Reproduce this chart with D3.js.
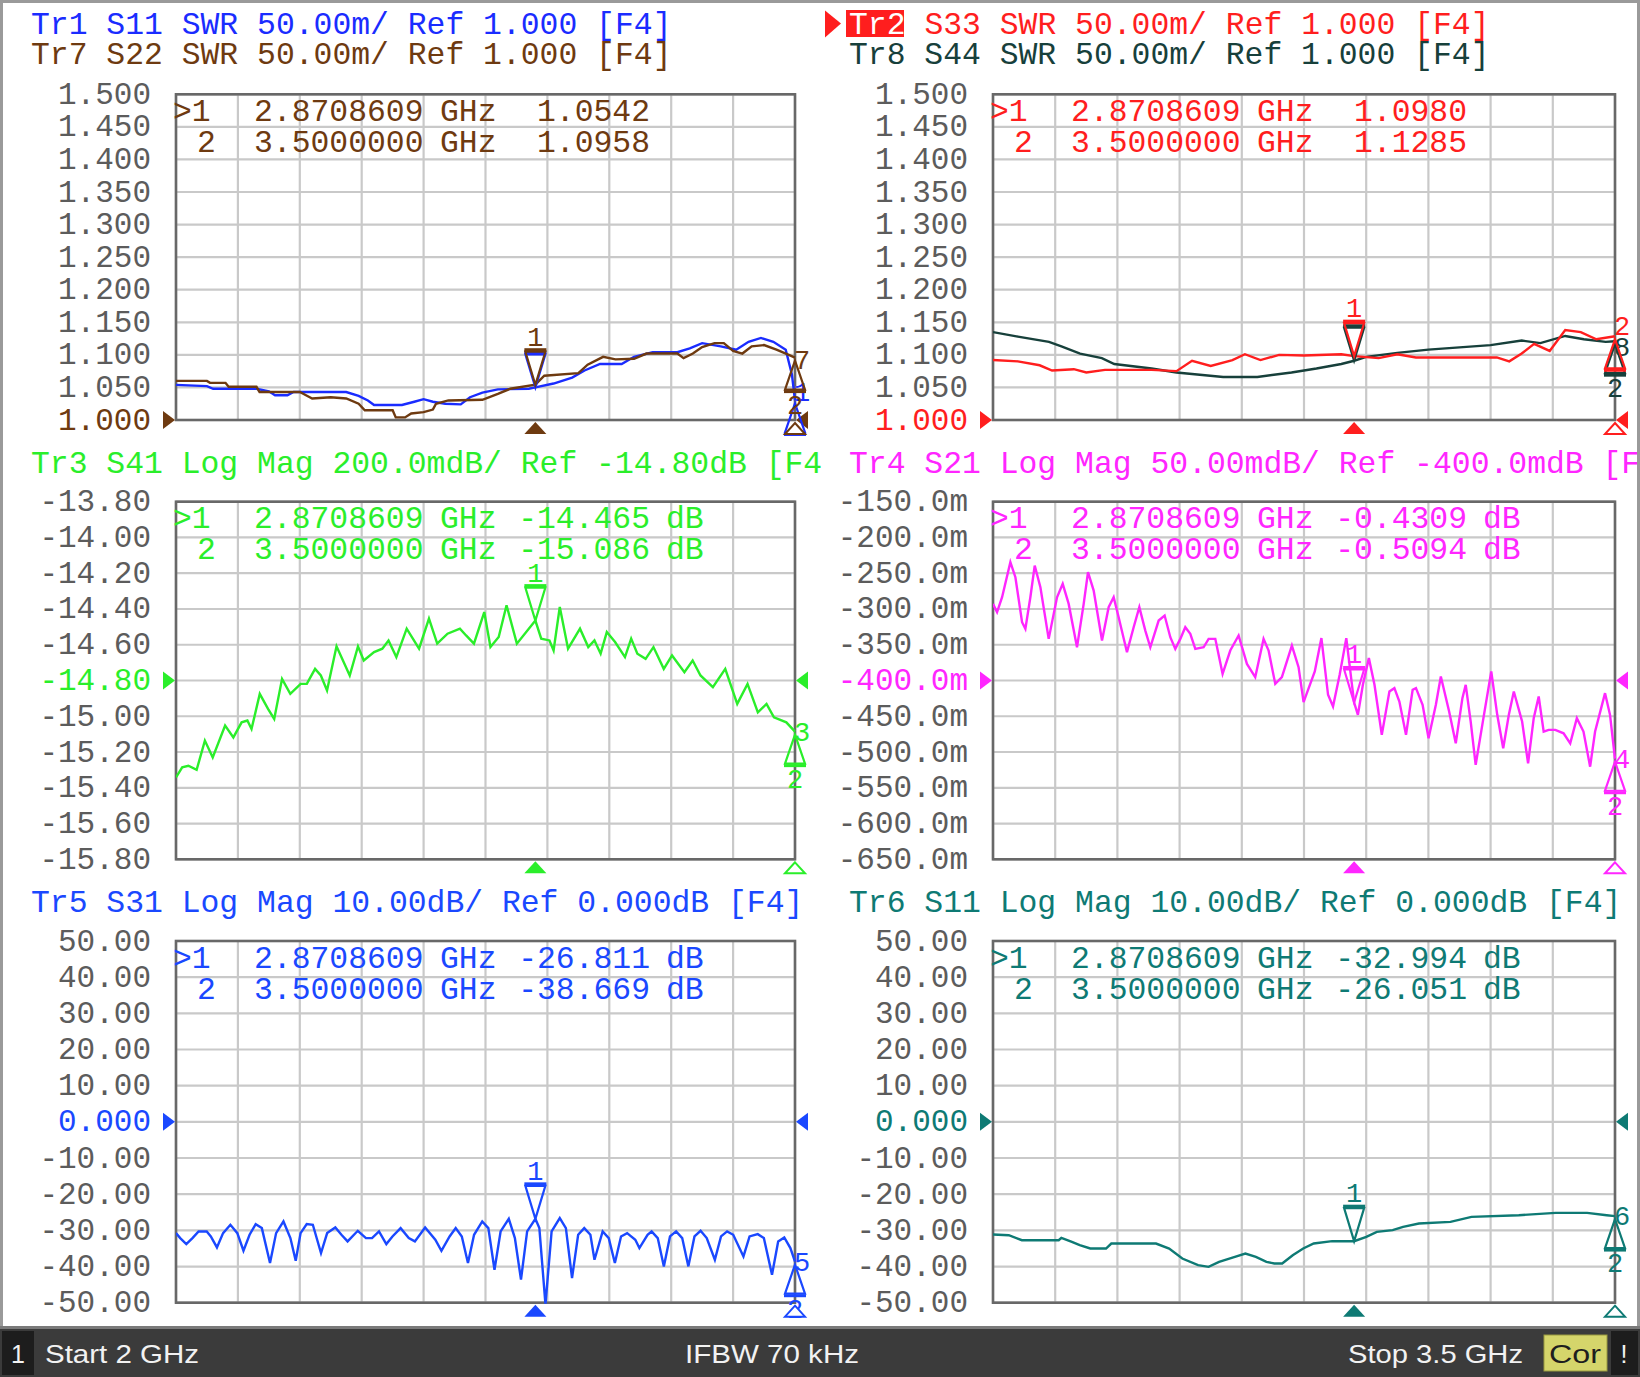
<!DOCTYPE html>
<html><head><meta charset="utf-8">
<script src="https://cdn.jsdelivr.net/npm/d3@7"></script>
<style>html,body{margin:0;padding:0;background:#fff;} svg{display:block;}</style>
</head><body>
<svg id="c" width="1640" height="1377"></svg>
<script>
// ---------------- DATA ----------------
const sweepStart = 2.0, sweepStop = 3.5;          // GHz
const marker1F = 2.8708609, marker2F = 3.5;

const swrTicks  = ["1.500","1.450","1.400","1.350","1.300","1.250","1.200","1.150","1.100","1.050","1.000"];
const s41Ticks  = ["-13.80","-14.00","-14.20","-14.40","-14.60","-14.80","-15.00","-15.20","-15.40","-15.60","-15.80"];
const s21Ticks  = ["-150.0m","-200.0m","-250.0m","-300.0m","-350.0m","-400.0m","-450.0m","-500.0m","-550.0m","-600.0m","-650.0m"];
const dbTicks   = ["50.00","40.00","30.00","20.00","10.00","0.000","-10.00","-20.00","-30.00","-40.00","-50.00"];

// Tr1 S11 SWR (blue)
const tr1F = [2.000,2.075,2.090,2.195,2.225,2.240,2.270,2.285,2.4125,2.4425,2.465,2.480,2.5475,2.5775,2.600,2.6225,2.6525,2.690,2.7125,2.7425,2.780,2.855,2.8709,2.915,2.960,2.990,3.0275,3.080,3.110,3.155,3.215,3.245,3.275,3.320,3.3575,3.3875,3.4175,3.4475,3.4775,3.4925,3.500];
const tr1V = [1.054,1.052,1.048,1.048,1.044,1.038,1.038,1.043,1.043,1.037,1.030,1.023,1.023,1.028,1.032,1.028,1.025,1.024,1.035,1.042,1.047,1.048,1.050,1.056,1.065,1.076,1.086,1.086,1.097,1.104,1.104,1.110,1.118,1.113,1.108,1.120,1.126,1.120,1.108,1.070,1.030];
// Tr7 S22 SWR (brown)
const tr7F = [2.000,2.075,2.0825,2.120,2.1275,2.195,2.2025,2.300,2.315,2.330,2.375,2.4125,2.4425,2.4575,2.525,2.5325,2.555,2.570,2.600,2.6225,2.630,2.660,2.7425,2.780,2.810,2.8709,2.8925,2.975,2.9975,3.035,3.065,3.110,3.140,3.215,3.230,3.2525,3.275,3.305,3.3275,3.350,3.3725,3.395,3.425,3.455,3.485,3.500];
const tr7V = [1.060,1.060,1.057,1.057,1.051,1.051,1.043,1.043,1.038,1.033,1.035,1.033,1.025,1.015,1.015,1.004,1.004,1.010,1.012,1.016,1.025,1.030,1.031,1.040,1.048,1.0542,1.068,1.072,1.085,1.097,1.093,1.094,1.102,1.102,1.095,1.102,1.112,1.118,1.118,1.106,1.102,1.113,1.115,1.108,1.100,1.0958];
// Tr2 S33 SWR (red)
const tr2F = [2.000,2.060,2.1125,2.1425,2.195,2.225,2.270,2.3825,2.4425,2.480,2.525,2.5775,2.6075,2.645,2.690,2.750,2.840,2.8709,2.930,2.975,3.020,3.215,3.245,3.275,3.305,3.3425,3.380,3.4175,3.455,3.500];
const tr2V = [1.092,1.090,1.084,1.076,1.078,1.073,1.077,1.077,1.075,1.091,1.083,1.092,1.101,1.092,1.100,1.099,1.101,1.098,1.095,1.101,1.096,1.096,1.090,1.102,1.117,1.106,1.138,1.135,1.124,1.1285];
// Tr8 S44 SWR (dark)
const tr8F = [2.000,2.060,2.135,2.165,2.210,2.2625,2.2925,2.3825,2.4425,2.555,2.6375,2.720,2.780,2.840,2.8709,2.900,2.975,3.050,3.200,3.275,3.320,3.380,3.425,3.4775,3.500];
const tr8V = [1.135,1.128,1.120,1.113,1.102,1.095,1.086,1.079,1.073,1.066,1.066,1.073,1.079,1.086,1.091,1.097,1.103,1.108,1.115,1.122,1.118,1.129,1.124,1.120,1.121];
// Tr3 S41 Log Mag dB (green)
const tr3F = [2.000,2.015,2.030,2.050,2.070,2.089,2.119,2.139,2.159,2.173,2.183,2.203,2.223,2.238,2.257,2.277,2.302,2.317,2.337,2.351,2.366,2.389,2.421,2.441,2.455,2.480,2.500,2.515,2.534,2.559,2.589,2.613,2.633,2.658,2.688,2.703,2.722,2.747,2.762,2.782,2.801,2.826,2.8709,2.885,2.905,2.915,2.930,2.950,2.979,2.999,3.014,3.029,3.044,3.064,3.088,3.103,3.118,3.138,3.157,3.182,3.202,3.232,3.252,3.271,3.301,3.331,3.360,3.385,3.410,3.431,3.449,3.479,3.500];
const tr3V = [-15.342,-15.286,-15.277,-15.300,-15.136,-15.230,-15.052,-15.118,-15.034,-15.024,-15.071,-14.875,-14.959,-15.015,-14.791,-14.875,-14.819,-14.819,-14.735,-14.772,-14.856,-14.609,-14.772,-14.609,-14.688,-14.641,-14.622,-14.576,-14.669,-14.510,-14.622,-14.454,-14.594,-14.538,-14.510,-14.548,-14.594,-14.417,-14.613,-14.557,-14.379,-14.594,-14.465,-14.566,-14.576,-14.632,-14.389,-14.622,-14.510,-14.613,-14.576,-14.650,-14.529,-14.585,-14.669,-14.566,-14.650,-14.679,-14.613,-14.735,-14.660,-14.753,-14.688,-14.772,-14.837,-14.735,-14.931,-14.819,-14.978,-14.931,-15.006,-15.034,-15.086];
// Tr4 S21 Log Mag dB (magenta)
const tr4F = [2.000,2.0098,2.0219,2.0419,2.054,2.0701,2.0781,2.0901,2.1006,2.1143,2.1343,2.1544,2.1681,2.1825,2.2026,2.2187,2.2291,2.2428,2.2629,2.2789,2.291,2.303,2.3231,2.3392,2.3529,2.3673,2.3794,2.3995,2.4139,2.4276,2.4396,2.4517,2.4637,2.4758,2.4879,2.5079,2.520,2.5361,2.5537,2.5722,2.5923,2.6124,2.6324,2.6525,2.6646,2.6807,2.6967,2.7208,2.7369,2.749,2.776,2.792,2.808,2.820,2.836,2.852,2.8709,2.880,2.892,2.9064,2.920,2.9376,2.956,2.968,2.980,2.996,3.012,3.020,3.036,3.0504,3.068,3.080,3.100,3.116,3.132,3.140,3.152,3.164,3.184,3.2016,3.216,3.2304,3.244,3.256,3.276,3.2904,3.304,3.316,3.328,3.340,3.356,3.376,3.392,3.408,3.424,3.440,3.452,3.476,3.488,3.500];
const tr4V = [-0.2929,-0.3045,-0.2836,-0.2346,-0.2556,-0.3185,-0.3278,-0.2836,-0.2393,-0.2696,-0.3418,-0.2836,-0.2649,-0.2929,-0.3535,-0.2929,-0.2486,-0.2742,-0.3441,-0.2975,-0.2836,-0.3115,-0.3604,-0.3255,-0.2975,-0.3302,-0.3535,-0.3162,-0.3092,-0.3395,-0.3558,-0.3418,-0.3255,-0.3348,-0.3558,-0.3535,-0.3418,-0.3418,-0.3907,-0.3581,-0.3371,-0.3768,-0.3954,-0.3418,-0.3581,-0.4047,-0.3954,-0.3511,-0.3814,-0.4303,-0.3874,-0.3407,-0.4200,-0.4364,-0.3920,-0.3407,-0.4309,-0.4480,-0.4060,-0.3687,-0.4060,-0.4760,-0.4154,-0.4107,-0.4294,-0.4760,-0.4130,-0.4107,-0.4340,-0.4808,-0.4340,-0.3944,-0.4434,-0.4878,-0.4247,-0.4060,-0.4574,-0.5180,-0.4480,-0.3874,-0.4480,-0.4948,-0.4480,-0.4154,-0.4574,-0.5158,-0.4527,-0.4224,-0.4714,-0.4690,-0.4690,-0.4738,-0.4878,-0.4527,-0.4714,-0.5205,-0.4714,-0.4177,-0.4480,-0.5094];
// Tr5 S31 Log Mag dB (blue)
const tr5F = [2.000,2.0102,2.025,2.0399,2.0547,2.0745,2.0844,2.0992,2.1141,2.1318,2.1486,2.1635,2.1783,2.1931,2.208,2.2278,2.2426,2.2604,2.2772,2.2901,2.3019,2.3168,2.3316,2.3514,2.3663,2.3861,2.4009,2.4158,2.4405,2.4603,2.4751,2.4919,2.5097,2.5245,2.5443,2.5641,2.5789,2.6037,2.6284,2.6432,2.663,2.6778,2.6926,2.7075,2.7223,2.7421,2.7569,2.7718,2.7866,2.8064,2.8212,2.836,2.8509,2.8709,2.8805,2.8953,2.9102,2.930,2.9448,2.9597,2.9745,2.9893,3.0042,3.0141,3.0339,3.0487,3.0635,3.0784,3.0932,3.113,3.1229,3.1427,3.1526,3.1674,3.1822,3.1971,3.2119,3.2267,3.2416,3.2564,3.2712,3.2861,3.3058,3.3207,3.3355,3.3503,3.3751,3.3899,3.4097,3.4245,3.4443,3.4592,3.474,3.4888,3.500];
const tr5V = [-30.76,-32.14,-33.80,-32.14,-30.30,-30.30,-31.68,-34.72,-30.76,-28.46,-30.76,-35.64,-31.22,-28.28,-29.38,-39.04,-30.76,-27.54,-32.14,-38.40,-30.76,-28.28,-28.46,-36.28,-30.76,-29.20,-31.22,-33.06,-30.12,-32.14,-32.14,-30.30,-33.80,-31.68,-29.38,-32.14,-33.06,-29.20,-32.60,-35.64,-31.68,-29.38,-31.68,-39.04,-31.22,-27.54,-29.38,-40.88,-30.30,-26.81,-32.14,-43.64,-30.30,-26.811,-29.38,-50.50,-30.30,-26.62,-29.38,-43.18,-31.22,-29.38,-31.22,-38.12,-30.30,-32.14,-39.04,-31.68,-30.76,-32.60,-34.90,-31.22,-30.30,-32.14,-39.96,-31.68,-30.30,-32.14,-39.96,-31.68,-30.12,-32.14,-38.12,-31.68,-30.30,-31.22,-37.20,-31.68,-31.04,-32.14,-42.26,-33.06,-31.96,-34.90,-38.669];
// Tr6 S11 Log Mag dB (teal)
const tr6F = [2.000,2.038,2.0697,2.1585,2.1648,2.1902,2.2092,2.2346,2.2726,2.2853,2.3931,2.4248,2.4565,2.4945,2.5199,2.5452,2.5833,2.6086,2.634,2.6594,2.6784,2.6974,2.7228,2.7481,2.7735,2.8179,2.8709,2.9003,2.9256,2.9637,2.989,3.0271,3.1032,3.1539,3.268,3.3568,3.4328,3.480,3.500];
const tr6V = [-31.15,-31.34,-32.72,-32.72,-32.07,-33.18,-34.10,-35.02,-35.02,-33.64,-33.64,-35.02,-37.79,-39.63,-40.09,-38.71,-37.33,-36.41,-37.33,-38.71,-39.17,-39.17,-36.87,-35.02,-33.64,-32.99,-32.994,-31.80,-30.41,-29.95,-29.03,-28.11,-27.65,-26.27,-25.81,-25.16,-25.16,-25.81,-26.051];

// ---------------- STYLE ----------------
const C = {blue:"#1a2cff", brown:"#6e3a10", red:"#ff1e1e", dark:"#17403b", green:"#2aee2a",
           magenta:"#ff26ff", blue5:"#1a48ff", teal:"#0e7a74", tick:"#5c5c5c", grid:"#c9c9c9", frame:"#686868"};
const MONO = "'Liberation Mono','DejaVu Sans Mono',monospace";
const SANS = "'Liberation Sans','DejaVu Sans',Arial,sans-serif";
const svg = d3.select("#c");
svg.append("rect").attr("x",0).attr("y",0).attr("width",1640).attr("height",1377).attr("fill","#fff");

const zip = (F,V) => F.map((f,i)=>[f,V[i]]);
function interp(F,V,f){ for(let i=1;i<F.length;i++){ if(f<=F[i]){ const t=(f-F[i-1])/(F[i]-F[i-1]); return V[i-1]+t*(V[i]-V[i-1]); } } return V[V.length-1]; }

const panels = [
 {L:176,R:795,T:94.3,B:420,dom:[1.0,1.5],ticks:swrTicks,refIdx:10,act:C.brown,tickX:151,
  headers:[{t:"Tr1 S11 SWR 50.00m/ Ref 1.000 [F4]",c:C.blue,x:31,y:33.5},{t:"Tr7 S22 SWR 50.00m/ Ref 1.000 [F4]",c:C.brown,x:31,y:63.5}],
  read:{c:C.brown,v1:"1.0542",v2:"1.0958",u:""},
  traces:[{F:tr1F,V:tr1V,c:C.blue,n:"1",no:-8,m2:false},{F:tr7F,V:tr7V,c:C.brown,n:"7",no:2,m2:true}]},
 {L:993,R:1615,T:94.3,B:420,dom:[1.0,1.5],ticks:swrTicks,refIdx:10,act:C.red,tickX:968,
  headers:[{t:"Tr2 S33 SWR 50.00m/ Ref 1.000 [F4]",c:C.red,x:849,y:33.5,hl:true},{t:"Tr8 S44 SWR 50.00m/ Ref 1.000 [F4]",c:C.dark,x:849,y:63.5}],
  read:{c:C.red,v1:"1.0980",v2:"1.1285",u:""},
  traces:[{F:tr8F,V:tr8V,c:C.dark,n:"8",no:6,m2:true},{F:tr2F,V:tr2V,c:C.red,n:"2",no:-10,m2:false}]},
 {L:176,R:795,T:501.7,B:859.3,dom:[-15.8,-13.8],ticks:s41Ticks,refIdx:5,act:C.green,tickX:151,
  headers:[{t:"Tr3 S41 Log Mag 200.0mdB/ Ref -14.80dB [F4",c:C.green,x:31,y:473.3}],
  read:{c:C.green,v1:"-14.465",v2:"-15.086",u:"dB"},
  traces:[{F:tr3F,V:tr3V,c:C.green,n:"3",no:0,m2:true}]},
 {L:993,R:1615,T:501.7,B:859.3,dom:[-0.65,-0.15],ticks:s21Ticks,refIdx:5,act:C.magenta,tickX:968,
  headers:[{t:"Tr4 S21 Log Mag 50.00mdB/ Ref -400.0mdB [F",c:C.magenta,x:849,y:473.3}],
  read:{c:C.magenta,v1:"-0.4309",v2:"-0.5094",u:"dB"},
  traces:[{F:tr4F,V:tr4V,c:C.magenta,n:"4",no:0,m2:true}]},
 {L:176,R:795,T:941,B:1302.7,dom:[-50,50],ticks:dbTicks,refIdx:5,act:C.blue5,tickX:151,
  headers:[{t:"Tr5 S31 Log Mag 10.00dB/ Ref 0.000dB [F4]",c:C.blue5,x:31,y:912.3}],
  read:{c:C.blue5,v1:"-26.811",v2:"-38.669",u:"dB"},
  traces:[{F:tr5F,V:tr5V,c:C.blue5,n:"5",no:0,m2:true}]},
 {L:993,R:1615,T:941,B:1302.7,dom:[-50,50],ticks:dbTicks,refIdx:5,act:C.teal,tickX:968,
  headers:[{t:"Tr6 S11 Log Mag 10.00dB/ Ref 0.000dB [F4]",c:C.teal,x:849,y:912.3}],
  read:{c:C.teal,v1:"-32.994",v2:"-26.051",u:"dB"},
  traces:[{F:tr6F,V:tr6V,c:C.teal,n:"6",no:0,m2:true}]}
];

const defs = svg.append("defs");
panels.forEach((p,pi)=>{
  const g = svg.append("g");
  const x = d3.scaleLinear().domain([sweepStart,sweepStop]).range([p.L,p.R]);
  const y = d3.scaleLinear().domain(p.dom).range([p.B,p.T]);
  const hiV = p.dom[1], step = (p.dom[1]-p.dom[0])/10;
  const tickVals = d3.range(11).map(i=>hiV-i*step);

  defs.append("clipPath").attr("id","pc"+pi).append("rect")
    .attr("x",p.L).attr("y",p.T-1).attr("width",p.R-p.L+2).attr("height",p.B-p.T+2);

  // grid
  const xt = d3.range(11).map(i=>sweepStart+i*(sweepStop-sweepStart)/10);
  g.selectAll(".vg").data(xt).join("line").attr("x1",d=>x(d)).attr("x2",d=>x(d))
    .attr("y1",p.T).attr("y2",p.B).attr("stroke",C.grid).attr("stroke-width",2.2);
  g.selectAll(".hg").data(tickVals).join("line").attr("x1",p.L).attr("x2",p.R)
    .attr("y1",d=>y(d)).attr("y2",d=>y(d)).attr("stroke",C.grid).attr("stroke-width",2.2);
  g.append("rect").attr("x",p.L).attr("y",p.T).attr("width",p.R-p.L).attr("height",p.B-p.T)
    .attr("fill","none").attr("stroke",C.frame).attr("stroke-width",2.6);

  // tick labels
  g.selectAll(".tl").data(tickVals).join("text")
    .attr("x",p.tickX).attr("y",d=>y(d)+9.5).attr("text-anchor","end")
    .attr("font-family",MONO).attr("font-size",31)
    .attr("fill",(d,i)=> i===p.refIdx ? p.act : C.tick).text((d,i)=>p.ticks[i]);

  // reference triangles
  const yr = y(tickVals[p.refIdx]);
  g.append("path").attr("d",`M${p.L-1},${yr} L${p.L-13},${yr-9} L${p.L-13},${yr+9} Z`).attr("fill",p.act);
  g.append("path").attr("d",`M${p.R+1},${yr} L${p.R+13},${yr-9} L${p.R+13},${yr+9} Z`).attr("fill",p.act);

  // headers
  p.headers.forEach(h=>{
    if(h.hl){
      g.append("path").attr("d",`M${h.x-24},${h.y-23} L${h.x-8},${h.y-10} L${h.x-24},${h.y+4} Z`).attr("fill",h.c);
      g.append("rect").attr("x",h.x-3).attr("y",h.y-23.5).attr("width",58).attr("height",27).attr("fill",h.c);
      g.append("text").attr("x",h.x).attr("y",h.y).attr("font-family",MONO).attr("font-size",31.4)
        .attr("fill","#fff").text(h.t.slice(0,3));
      g.append("text").attr("x",h.x+4*18.85).attr("y",h.y).attr("font-family",MONO).attr("font-size",31.4)
        .attr("fill",h.c).text(h.t.slice(4));
    } else {
      g.append("text").attr("x",h.x).attr("y",h.y).attr("font-family",MONO).attr("font-size",31.4)
        .attr("fill",h.c).text(h.t);
    }
  });

  // traces
  const line = d3.line().x(d=>x(d[0])).y(d=>y(d[1]));
  const tg = g.append("g").attr("clip-path",`url(#pc${pi})`);
  p.traces.forEach(t=>{
    tg.append("path").datum(zip(t.F,t.V)).attr("d",line).attr("fill","none")
      .attr("stroke",t.c).attr("stroke-width",2.4).attr("stroke-linejoin","miter");
  });

  // trace markers
  p.traces.forEach((t,ti)=>{
    const last = ti===p.traces.length-1;
    const m1x = x(marker1F), m1y = y(interp(t.F,t.V,marker1F));
    g.append("path").attr("d",`M${m1x-10},${m1y-33} L${m1x+10},${m1y-33} L${m1x},${m1y} Z`)
      .attr("fill","none").attr("stroke",t.c).attr("stroke-width",2.2);
    g.append("line").attr("x1",m1x-11).attr("x2",m1x+11).attr("y1",m1y-35).attr("y2",m1y-35)
      .attr("stroke",t.c).attr("stroke-width",3);
    if(last) g.append("text").attr("x",m1x).attr("y",m1y-39).attr("text-anchor","middle")
      .attr("font-family",MONO).attr("font-size",27).attr("fill",t.c).text("1");
    const m2x = x(marker2F), m2y = y(interp(t.F,t.V,marker2F));
    g.append("path").attr("d",`M${m2x-10},${m2y+32} L${m2x+10},${m2y+32} L${m2x},${m2y+3} Z`)
      .attr("fill","none").attr("stroke",t.c).attr("stroke-width",2.2);
    g.append("line").attr("x1",m2x-11).attr("x2",m2x+11).attr("y1",m2y+34).attr("y2",m2y+34)
      .attr("stroke",t.c).attr("stroke-width",3);
    if(t.m2) g.append("text").attr("x",m2x).attr("y",m2y+56).attr("text-anchor","middle")
      .attr("font-family",MONO).attr("font-size",27).attr("fill",t.c).text("2");
    // trace number at right edge
    g.append("text").attr("x",p.R-1).attr("y",m2y+9+t.no).attr("font-family",MONO)
      .attr("font-size",27).attr("fill",t.c).text(t.n);
  });

  // bottom marker indicators
  const bx = x(marker1F), bx2 = x(marker2F);
  g.append("path").attr("d",`M${bx},${p.B+2} L${bx+11},${p.B+14} L${bx-11},${p.B+14} Z`).attr("fill",p.act);
  g.append("path").attr("d",`M${bx2},${p.B+3} L${bx2+10},${p.B+14} L${bx2-10},${p.B+14} Z`)
    .attr("fill","#fff").attr("stroke",p.act).attr("stroke-width",2);

  // marker readout
  const r = p.read, rg = g.append("g").attr("font-family",MONO).attr("font-size",31.4).attr("fill",r.c);
  const y1 = p.T+26.5, y2 = p.T+57.5;
  rg.append("text").attr("x",p.L-3).attr("y",y1).text(">1");
  rg.append("text").attr("x",p.L+21).attr("y",y2).text("2");
  rg.append("text").attr("x",p.L+78).attr("y",y1).text("2.8708609");
  rg.append("text").attr("x",p.L+78).attr("y",y2).text("3.5000000");
  rg.append("text").attr("x",p.L+264).attr("y",y1).text("GHz");
  rg.append("text").attr("x",p.L+264).attr("y",y2).text("GHz");
  rg.append("text").attr("x",p.L+474).attr("y",y1).attr("text-anchor","end").text(r.v1);
  rg.append("text").attr("x",p.L+474).attr("y",y2).attr("text-anchor","end").text(r.v2);
  if(r.u){
    rg.append("text").attr("x",p.L+490).attr("y",y1).text(r.u);
    rg.append("text").attr("x",p.L+490).attr("y",y2).text(r.u);
  }
});

// outer frame
svg.append("rect").attr("x",1.5).attr("y",1.5).attr("width",1637).attr("height",1326)
  .attr("fill","none").attr("stroke","#9a9a9a").attr("stroke-width",3);

// status bar
const sb = svg.append("g");
sb.append("rect").attr("x",0).attr("y",1326).attr("width",1640).attr("height",51).attr("fill","#3b3b3b");
sb.append("line").attr("x1",0).attr("x2",1640).attr("y1",1327.5).attr("y2",1327.5).attr("stroke","#7a7a7a").attr("stroke-width",3);
sb.append("rect").attr("x",2).attr("y",1331).attr("width",32).attr("height",44).attr("fill","#1d1d1d");
sb.append("text").attr("x",18).attr("y",1363).attr("text-anchor","middle").attr("font-family",SANS).attr("font-size",25).attr("fill","#f2f2f2").text("1");
const st = (t,xx,len)=> sb.append("text").attr("x",xx).attr("y",1363).attr("font-family",SANS).attr("font-size",25)
   .attr("fill","#f2f2f2").attr("textLength",len).attr("lengthAdjust","spacingAndGlyphs").text(t);
st("Start 2 GHz",45,154);
st("IFBW 70 kHz",685,174);
st("Stop 3.5 GHz",1348,175);
sb.append("rect").attr("x",1544).attr("y",1335).attr("width",63).attr("height",36).attr("fill","#d5d56b").attr("stroke","#9a9a40");
sb.append("text").attr("x",1549).attr("y",1363).attr("font-family",SANS).attr("font-size",25).attr("fill","#1e1e1e")
  .attr("textLength",52).attr("lengthAdjust","spacingAndGlyphs").text("Cor");
sb.append("rect").attr("x",1611).attr("y",1331).attr("width",27).attr("height",44).attr("fill","#1d1d1d");
sb.append("text").attr("x",1624).attr("y",1363).attr("text-anchor","middle").attr("font-family",SANS).attr("font-size",25).attr("fill","#f2f2f2").text("!");
</script>
</body></html>
